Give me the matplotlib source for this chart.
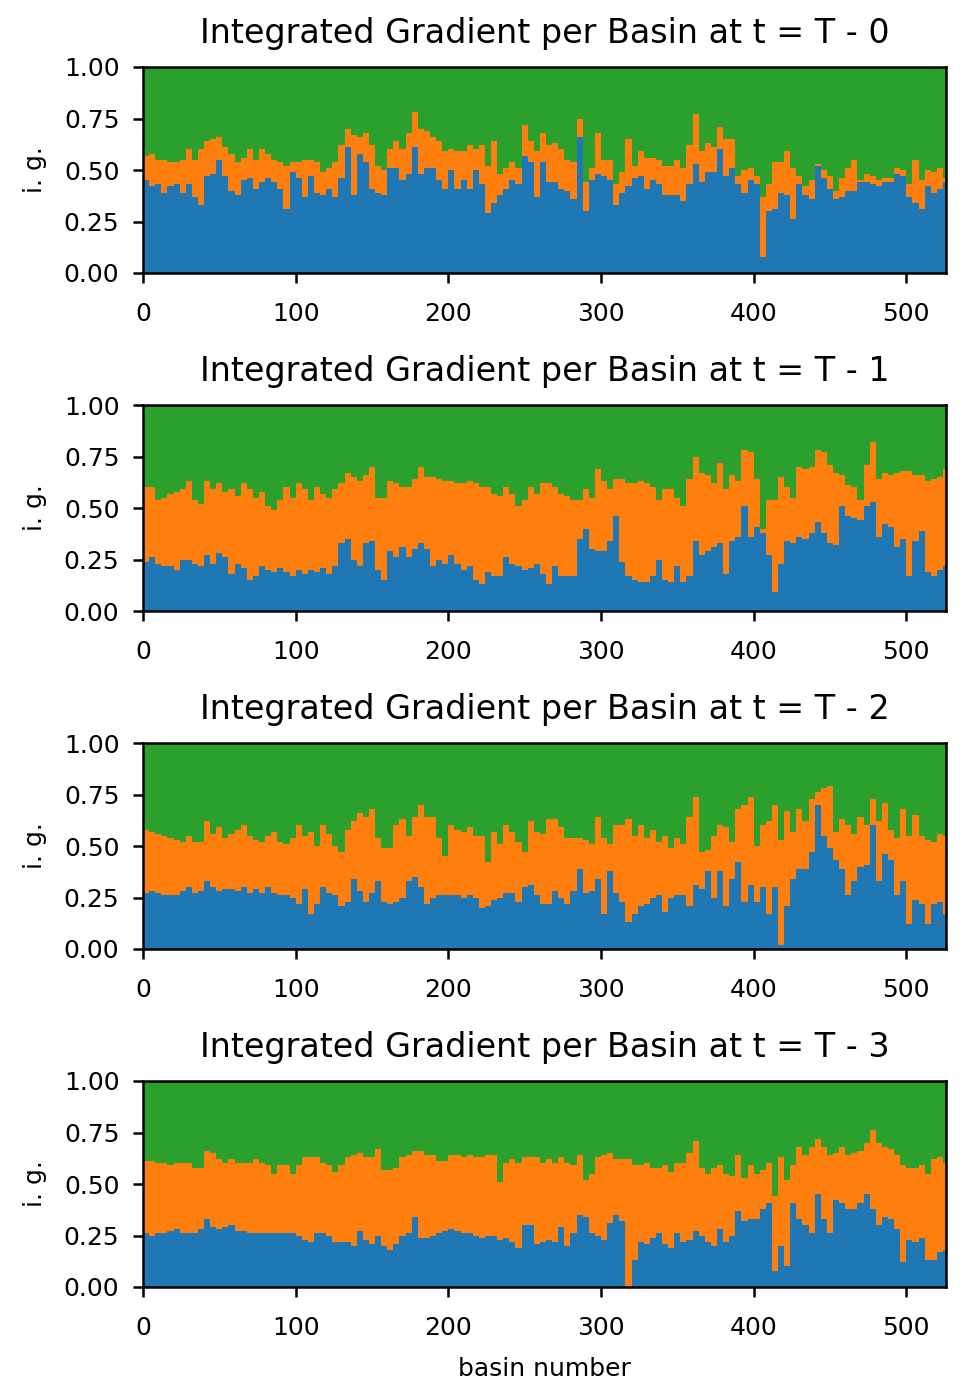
import numpy as np
import matplotlib
matplotlib.use("Agg")
import matplotlib.pyplot as plt
from matplotlib.ticker import FormatStrFormatter

# basins grouped by 4 (left edge of each group)
basin_start = np.arange(0, 528, 4)
group_width = 4

# share of feature 1 (blue) and cumulative share of features 1+2 (blue+orange); rest is feature 3
ig_first_t0 = [0.45, 0.42, 0.43, 0.39, 0.42, 0.43, 0.39, 0.43, 0.37, 0.33,
               0.47, 0.48, 0.55, 0.47, 0.40, 0.38, 0.45, 0.46, 0.41, 0.44,
               0.46, 0.44, 0.41, 0.31, 0.49, 0.46, 0.37, 0.47, 0.39, 0.38,
               0.41, 0.37, 0.46, 0.61, 0.38, 0.58, 0.54, 0.41, 0.39, 0.38,
               0.51, 0.51, 0.45, 0.48, 0.61,
               0.48, 0.51, 0.51, 0.45, 0.41, 0.50, 0.41, 0.45, 0.41, 0.50,
               0.43, 0.29, 0.34, 0.38, 0.41, 0.45, 0.43, 0.57, 0.54, 0.37,
               0.54, 0.44, 0.44, 0.41, 0.40, 0.36, 0.66, 0.30, 0.45, 0.48,
               0.47, 0.45, 0.33, 0.39, 0.42, 0.46, 0.47, 0.41, 0.45, 0.43,
               0.38, 0.38, 0.38, 0.35,
               0.43, 0.53, 0.44, 0.49, 0.49, 0.60, 0.47, 0.51, 0.43, 0.39,
               0.45, 0.43, 0.08, 0.30, 0.31, 0.39, 0.38, 0.26, 0.43, 0.38,
               0.36, 0.52, 0.46, 0.41, 0.36, 0.37, 0.40, 0.40, 0.44, 0.44,
               0.43, 0.42, 0.44, 0.44, 0.48, 0.47, 0.37, 0.34, 0.31, 0.42,
               0.39, 0.41, 0.44]
ig_cum_t0 = [0.57, 0.58, 0.55, 0.55, 0.54, 0.54, 0.55, 0.60, 0.55, 0.60,
             0.64, 0.65, 0.66, 0.61, 0.58, 0.54, 0.56, 0.60, 0.55, 0.60,
             0.58, 0.55, 0.54, 0.52, 0.54, 0.54, 0.55, 0.55, 0.54, 0.49,
             0.51, 0.54, 0.62, 0.70, 0.67, 0.66, 0.68, 0.62, 0.52, 0.50,
             0.60, 0.64, 0.60, 0.68, 0.78,
             0.70, 0.69, 0.66, 0.64, 0.59, 0.60, 0.59, 0.59, 0.62, 0.60,
             0.62, 0.52, 0.64, 0.48, 0.51, 0.54, 0.51, 0.72, 0.64, 0.59,
             0.68, 0.62, 0.63, 0.60, 0.55, 0.54, 0.75, 0.44, 0.51, 0.68,
             0.55, 0.55, 0.43, 0.49, 0.65, 0.52, 0.59, 0.56, 0.56, 0.55,
             0.52, 0.52, 0.55, 0.51,
             0.62, 0.77, 0.59, 0.63, 0.61, 0.71, 0.65, 0.65, 0.47, 0.50,
             0.51, 0.47, 0.37, 0.43, 0.54, 0.54, 0.59, 0.51, 0.47, 0.42,
             0.45, 0.53, 0.50, 0.47, 0.40, 0.46, 0.51, 0.55, 0.45, 0.48,
             0.47, 0.45, 0.46, 0.46, 0.51, 0.50, 0.43, 0.55, 0.45, 0.50,
             0.49, 0.51, 0.46]

ig_first_t1 = [0.24, 0.26, 0.23, 0.22, 0.22, 0.20, 0.25, 0.25, 0.23, 0.22,
               0.27, 0.23, 0.28, 0.26, 0.18, 0.23, 0.21, 0.15, 0.17, 0.22,
               0.20, 0.19, 0.21, 0.19, 0.17, 0.20, 0.18, 0.20, 0.19, 0.21,
               0.18, 0.22, 0.33, 0.35, 0.25, 0.22, 0.33, 0.34, 0.20, 0.15,
               0.29, 0.26, 0.31, 0.26, 0.30,
               0.33, 0.30, 0.22, 0.25, 0.23, 0.27, 0.23, 0.20, 0.22, 0.15,
               0.13, 0.19, 0.17, 0.17, 0.26, 0.23, 0.22, 0.20, 0.21, 0.23,
               0.18, 0.13, 0.22, 0.17, 0.17, 0.17, 0.35, 0.40, 0.30, 0.29,
               0.29, 0.34, 0.46, 0.24, 0.17, 0.15, 0.14, 0.14, 0.17, 0.25,
               0.15, 0.14, 0.22, 0.14,
               0.17, 0.34, 0.27, 0.29, 0.31, 0.33, 0.18, 0.34, 0.36, 0.51,
               0.36, 0.41, 0.38, 0.27, 0.09, 0.23, 0.34, 0.33, 0.36, 0.35,
               0.38, 0.43, 0.38, 0.33, 0.32, 0.51, 0.46, 0.45, 0.44, 0.51,
               0.53, 0.36, 0.42, 0.41, 0.31, 0.35, 0.17, 0.34, 0.39, 0.19,
               0.17, 0.20, 0.22]
ig_cum_t1 = [0.60, 0.60, 0.54, 0.55, 0.57, 0.58, 0.59, 0.63, 0.54, 0.52,
             0.63, 0.59, 0.62, 0.58, 0.59, 0.56, 0.62, 0.59, 0.55, 0.58,
             0.51, 0.49, 0.54, 0.60, 0.55, 0.62, 0.59, 0.54, 0.60, 0.57,
             0.55, 0.59, 0.62, 0.67, 0.65, 0.63, 0.66, 0.70, 0.55, 0.55,
             0.63, 0.62, 0.60, 0.60, 0.64,
             0.70, 0.65, 0.65, 0.64, 0.63, 0.63, 0.62, 0.62, 0.63, 0.62,
             0.60, 0.60, 0.57, 0.56, 0.60, 0.57, 0.51, 0.54, 0.60, 0.57,
             0.62, 0.62, 0.60, 0.57, 0.56, 0.54, 0.54, 0.59, 0.55, 0.69,
             0.63, 0.59, 0.64, 0.64, 0.62, 0.62, 0.63, 0.62, 0.60, 0.54,
             0.59, 0.59, 0.55, 0.51,
             0.64, 0.75, 0.67, 0.66, 0.62, 0.72, 0.59, 0.66, 0.63, 0.78,
             0.77, 0.64, 0.40, 0.54, 0.54, 0.65, 0.60, 0.55, 0.70, 0.69,
             0.70, 0.78, 0.77, 0.71, 0.67, 0.66, 0.61, 0.60, 0.54, 0.71,
             0.82, 0.64, 0.67, 0.66, 0.67, 0.68, 0.68, 0.66, 0.66, 0.63,
             0.64, 0.65, 0.69]

ig_first_t2 = [0.27, 0.28, 0.27, 0.26, 0.26, 0.26, 0.28, 0.30, 0.27, 0.28,
               0.33, 0.30, 0.28, 0.29, 0.29, 0.28, 0.30, 0.27, 0.29, 0.27,
               0.30, 0.27, 0.26, 0.26, 0.25, 0.22, 0.29, 0.17, 0.22, 0.30,
               0.27, 0.26, 0.21, 0.23, 0.34, 0.28, 0.23, 0.27, 0.33, 0.23,
               0.22, 0.23, 0.25, 0.33, 0.35,
               0.30, 0.22, 0.25, 0.26, 0.26, 0.26, 0.26, 0.25, 0.26, 0.25,
               0.20, 0.21, 0.24, 0.25, 0.27, 0.27, 0.23, 0.30, 0.31, 0.26,
               0.22, 0.22, 0.28, 0.25, 0.22, 0.28, 0.39, 0.27, 0.28, 0.34,
               0.17, 0.38, 0.27, 0.23, 0.13, 0.17, 0.21, 0.22, 0.25, 0.26,
               0.18, 0.25, 0.26, 0.26,
               0.21, 0.31, 0.29, 0.38, 0.25, 0.38, 0.21, 0.34, 0.42, 0.23,
               0.31, 0.23, 0.30, 0.17, 0.30, 0.02, 0.21, 0.34, 0.39, 0.39,
               0.47, 0.70, 0.55, 0.49, 0.43, 0.39, 0.26, 0.33, 0.40, 0.41,
               0.60, 0.33, 0.46, 0.43, 0.26, 0.33, 0.12, 0.24, 0.22, 0.12,
               0.22, 0.23, 0.17]
ig_cum_t2 = [0.58, 0.57, 0.56, 0.55, 0.54, 0.53, 0.52, 0.55, 0.52, 0.52,
             0.62, 0.56, 0.59, 0.54, 0.56, 0.58, 0.60, 0.55, 0.53, 0.52,
             0.55, 0.57, 0.52, 0.51, 0.54, 0.60, 0.55, 0.57, 0.50, 0.60,
             0.56, 0.50, 0.47, 0.58, 0.62, 0.66, 0.64, 0.68, 0.54, 0.49,
             0.49, 0.60, 0.63, 0.55, 0.64,
             0.70, 0.64, 0.64, 0.54, 0.45, 0.60, 0.58, 0.57, 0.59, 0.55,
             0.55, 0.42, 0.57, 0.51, 0.60, 0.57, 0.52, 0.47, 0.62, 0.57,
             0.56, 0.63, 0.63, 0.59, 0.54, 0.54, 0.54, 0.53, 0.51, 0.64,
             0.54, 0.51, 0.60, 0.60, 0.63, 0.55, 0.60, 0.54, 0.58, 0.52,
             0.55, 0.49, 0.54, 0.51,
             0.64, 0.74, 0.47, 0.48, 0.55, 0.60, 0.59, 0.52, 0.68, 0.70,
             0.74, 0.50, 0.60, 0.62, 0.70, 0.53, 0.67, 0.57, 0.68, 0.62,
             0.73, 0.76, 0.78, 0.79, 0.57, 0.63, 0.60, 0.56, 0.64, 0.60,
             0.73, 0.62, 0.71, 0.58, 0.54, 0.68, 0.55, 0.65, 0.55, 0.53,
             0.52, 0.56, 0.55]

ig_first_t3 = [0.26, 0.25, 0.26, 0.26, 0.27, 0.28, 0.26, 0.26, 0.26, 0.28,
               0.33, 0.29, 0.28, 0.29, 0.30, 0.27, 0.27, 0.26, 0.26, 0.26,
               0.26, 0.26, 0.26, 0.26, 0.26, 0.25, 0.23, 0.22, 0.26, 0.26,
               0.25, 0.22, 0.22, 0.22, 0.20, 0.27, 0.23, 0.21, 0.25, 0.20,
               0.18, 0.21, 0.25, 0.26, 0.34,
               0.24, 0.24, 0.25, 0.26, 0.27, 0.28, 0.27, 0.26, 0.26, 0.25,
               0.24, 0.25, 0.25, 0.23, 0.24, 0.22, 0.19, 0.30, 0.30, 0.21,
               0.22, 0.23, 0.22, 0.29, 0.20, 0.26, 0.35, 0.34, 0.26, 0.25,
               0.23, 0.31, 0.35, 0.32, 0.00, 0.13, 0.22, 0.21, 0.24, 0.26,
               0.21, 0.19, 0.26, 0.22,
               0.23, 0.27, 0.25, 0.22, 0.20, 0.28, 0.22, 0.25, 0.37, 0.32,
               0.33, 0.33, 0.38, 0.41, 0.08, 0.20, 0.10, 0.41, 0.33, 0.30,
               0.26, 0.45, 0.33, 0.26, 0.42, 0.41, 0.38, 0.38, 0.41, 0.45,
               0.38, 0.30, 0.34, 0.33, 0.28, 0.12, 0.23, 0.22, 0.24, 0.13,
               0.13, 0.17, 0.18]
ig_cum_t3 = [0.61, 0.61, 0.60, 0.60, 0.59, 0.60, 0.60, 0.60, 0.58, 0.58,
             0.66, 0.65, 0.62, 0.60, 0.62, 0.60, 0.60, 0.60, 0.62, 0.60,
             0.59, 0.55, 0.59, 0.59, 0.55, 0.59, 0.63, 0.63, 0.63, 0.60,
             0.59, 0.56, 0.59, 0.63, 0.64, 0.65, 0.63, 0.63, 0.67, 0.57,
             0.57, 0.58, 0.63, 0.64, 0.66,
             0.66, 0.64, 0.64, 0.61, 0.61, 0.64, 0.64, 0.63, 0.64, 0.63,
             0.63, 0.64, 0.64, 0.51, 0.60, 0.62, 0.60, 0.63, 0.63, 0.63,
             0.60, 0.62, 0.60, 0.63, 0.60, 0.59, 0.64, 0.52, 0.55, 0.63,
             0.64, 0.65, 0.62, 0.62, 0.62, 0.59, 0.59, 0.60, 0.58, 0.58,
             0.59, 0.56, 0.60, 0.60,
             0.65, 0.71, 0.58, 0.55, 0.58, 0.59, 0.55, 0.54, 0.64, 0.53,
             0.59, 0.55, 0.57, 0.60, 0.44, 0.63, 0.52, 0.59, 0.68, 0.64,
             0.68, 0.72, 0.68, 0.64, 0.65, 0.68, 0.64, 0.65, 0.66, 0.70,
             0.76, 0.70, 0.68, 0.67, 0.64, 0.59, 0.58, 0.58, 0.59, 0.55,
             0.62, 0.63, 0.60]

lags = [0, 1, 2, 3]
panels = [(ig_first_t0, ig_cum_t0), (ig_first_t1, ig_cum_t1),
          (ig_first_t2, ig_cum_t2), (ig_first_t3, ig_cum_t3)]
colors = ['#1f77b4', '#ff7f0e', '#2ca02c']

plt.rcParams['font.family'] = ['DejaVu Sans']

fig = plt.figure(figsize=(9.67, 13.95), dpi=100)
W, H = 967.0, 1395.0
for k, (first, cum) in enumerate(panels):
    first = np.array(first)
    cum = np.array(cum)
    top_px = 67 + k * 338
    ax = fig.add_axes([143 / W, 1 - (top_px + 206) / H, 803 / W, 206 / H])
    parts = [(first, 0), (cum - first, first), (1 - cum, cum)]
    for (h, b), c in zip(parts, colors):
        ax.bar(basin_start, h, bottom=b, width=group_width, align='edge',
               color=c, linewidth=0, antialiased=False)
    ax.set_xlim(0, 526)
    ax.set_ylim(0, 1)
    ax.set_xticks([0, 100, 200, 300, 400, 500])
    ax.set_yticks([0, 0.25, 0.5, 0.75, 1.0])
    ax.yaxis.set_major_formatter(FormatStrFormatter('%.2f'))
    ax.tick_params(labelsize=18, length=7, width=1.8)
    ax.tick_params(axis='x', pad=14)
    ax.tick_params(axis='y', pad=10)
    for s in ax.spines.values():
        s.set_linewidth(1.8)
    ax.set_ylabel('i. g.', fontsize=18, labelpad=12)
    ax.set_title(f'Integrated Gradient per Basin at t = T - {lags[k]}',
                 fontsize=24, pad=17)
    if k == 3:
        ax.set_xlabel('basin number', fontsize=18, labelpad=12)

fig.savefig('out.png', dpi=100)
